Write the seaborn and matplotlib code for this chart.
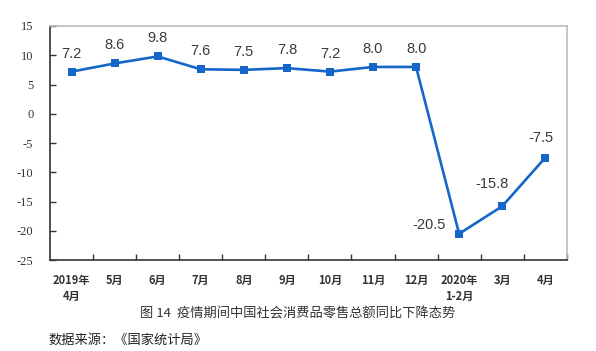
import numpy as np
import pandas as pd
import seaborn as sns
import matplotlib.pyplot as plt
from matplotlib.ticker import FixedLocator

# 月份标签与社会消费品零售总额同比增速（%）
months = ['2019年\n4月', '5月', '6月', '7月', '8月', '9月', '10月', '11月', '12月',
          '2020年\n1-2月', '3月', '4月']
growth = [7.2, 8.6, 9.8, 7.6, 7.5, 7.8, 7.2, 8.0, 8.0, -20.5, -15.8, -7.5]
y_ticks = [15, 10, 5, 0, -5, -10, -15, -20, -25]
caption = '图 14  疫情期间中国社会消费品零售总额同比下降态势'
source = '数据来源：《国家统计局》'

df = pd.DataFrame({'pos': np.arange(len(months)), 'growth': growth})

sns.set_style('white')
plt.rcParams['font.family'] = ['Noto Sans CJK SC', 'DejaVu Sans']

fig = plt.figure(figsize=(5.96, 3.51), dpi=100)
ax = fig.add_axes([0.084, 0.259, 0.867, 0.667])

line_color = '#1466C8'
sns.lineplot(data=df, x='pos', y='growth', ax=ax, color=line_color,
             linewidth=1.9, marker='s', markersize=5.5, markeredgewidth=0)

# 数据标签
offsets = {9: (-22, 1), 10: (-7, 11), 11: (-3, 9)}
for x, y in zip(df['pos'], df['growth']):
    dx, dy = offsets.get(x, (0, 8))
    ax.annotate(f'{y:.1f}', (x, y), textcoords='offset points', xytext=(dx, dy),
                ha='center', va='bottom', fontsize=10.5, color='#3a3a3a',
                family=['Liberation Sans', 'DejaVu Sans'])

ax.set_xlim(-0.5, len(months) - 0.5)
ax.set_ylim(-25, 15)
ax.set_yticks(y_ticks)
ax.set_yticklabels([str(v) for v in y_ticks], fontsize=9, color='#333333',
                   family=['Liberation Serif', 'DejaVu Serif'])
ax.set_xticks(df['pos'])
ax.set_xticklabels(months, fontsize=8, fontweight='bold', color='#333333',
                   linespacing=1.3)
ax.xaxis.set_minor_locator(FixedLocator(np.arange(0.5, len(months), 1.0)))
ax.tick_params(axis='x', which='major', length=0, pad=10)
ax.tick_params(axis='x', which='minor', direction='in', length=4, width=1,
               color='#333333', bottom=True)
ax.tick_params(axis='y', direction='in', length=4, width=1, color='#333333',
               left=True, pad=12)

ax.set_xlabel('')
ax.set_ylabel('')
for side in ['left', 'bottom']:
    ax.spines[side].set_color('#333333')
    ax.spines[side].set_linewidth(1.2)
for side in ['top', 'right']:
    ax.spines[side].set_color('#BBBBBB')
    ax.spines[side].set_linewidth(1.2)

fig.text(0.50, 0.106, caption, ha='center', va='center', fontsize=9.5,
         color='#333333')
fig.text(0.081, 0.030, source, ha='left', va='center', fontsize=9.5,
         color='#222222')

fig.savefig('out.png', dpi=100)
